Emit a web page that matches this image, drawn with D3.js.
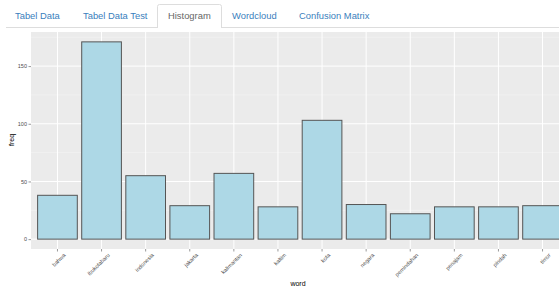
<!DOCTYPE html>
<html><head><meta charset="utf-8">
<script src="https://cdn.jsdelivr.net/npm/d3@7"></script>
<style>
body{margin:0;background:#fff;font-family:"Liberation Sans",Arial,sans-serif;}
svg{display:block}
</style></head>
<body><svg id="c" width="559" height="289"></svg>
<script>
const tabs = ["Tabel Data","Tabel Data Test","Histogram","Wordcloud","Confusion Matrix"];
const activeTab = "Histogram";
const words = ["bahwa","ibukotabaru","indonesia","jakarta","kalimantan","kaltim","kota","negara","pemindahan","penajam","pindah","timur"];
const freq = [38,171,55,29,57,28,103,30,22,28,28,29];
const yTicks = [0,50,100,150];
const yMinor = [25,75,125,175];

(function(){
const svg = d3.select("#c");
const tabX = [15,83,168,232,299];
svg.append("line").attr("x1",6).attr("x2",559).attr("y1",27.5).attr("y2",27.5).attr("stroke","#ddd");
tabs.forEach((t,i)=>{
  if(t===activeTab){
    svg.append("path").attr("d",`M157.5,28V6.5a2,2 0 0 1 2,-2H219.5a2,2 0 0 1 2,2V28`).attr("fill","#fff").attr("stroke","#ddd");
    svg.append("rect").attr("x",158).attr("y",26).attr("width",63).attr("height",3).attr("fill","#fff");
  }
  svg.append("text").attr("x",tabX[i]).attr("y",19).attr("font-size",9.4)
    .attr("fill",t===activeTab?"#666":"#3a80bd").text(t);
});

const pL=31, pR=569, pT=32, pB=249;
const x = d3.scaleBand().domain(words).range([pL,pR]).paddingInner(0.1).paddingOuter(0.15);
const yMax = d3.max(freq);
const y = d3.scaleLinear().domain([-yMax*0.05, yMax*1.05]).range([pB,pT]);

const g = svg.append("g");
g.append("rect").attr("x",pL).attr("y",pT).attr("width",pR-pL).attr("height",pB-pT).attr("fill","#ebebeb");
yMinor.forEach(v=>g.append("line").attr("x1",pL).attr("x2",pR).attr("y1",y(v)).attr("y2",y(v)).attr("stroke","#f7f7f7").attr("stroke-width",0.5));
yTicks.forEach(v=>g.append("line").attr("x1",pL).attr("x2",pR).attr("y1",y(v)).attr("y2",y(v)).attr("stroke","#fff").attr("stroke-width",1));
words.forEach(w=>{const cx=x(w)+x.bandwidth()/2; g.append("line").attr("x1",cx).attr("x2",cx).attr("y1",pT).attr("y2",pB).attr("stroke","#fff").attr("stroke-width",1);});

g.selectAll(".bar").data(words).join("rect").attr("class","bar")
  .attr("x",d=>x(d)).attr("width",x.bandwidth())
  .attr("y",(d,i)=>y(freq[i])).attr("height",(d,i)=>y(0)-y(freq[i]))
  .attr("fill","#add8e6").attr("stroke","#555").attr("stroke-width",1);

const ya = svg.append("g").attr("transform",`translate(${pL},0)`)
  .call(d3.axisLeft(y).tickValues(yTicks).tickSize(2.5).tickPadding(1.5));
ya.select(".domain").remove();
ya.selectAll("line").attr("stroke","#333").attr("stroke-width",0.5);
ya.selectAll("text").attr("font-size",5.5).attr("fill","#4d4d4d").attr("font-family","Liberation Sans,Arial,sans-serif");

const xa = svg.append("g").attr("transform",`translate(0,${pB})`)
  .call(d3.axisBottom(x).tickSize(2.5).tickPadding(2));
xa.select(".domain").remove();
xa.selectAll("line").attr("stroke","#333").attr("stroke-width",0.5);
xa.selectAll("text").attr("font-size",5.5).attr("fill","#4d4d4d").attr("font-family","Liberation Sans,Arial,sans-serif")
  .attr("text-anchor","end").attr("dy","0.35em").attr("transform","translate(4,2) rotate(-45)");

svg.append("text").attr("x",298).attr("y",286).attr("text-anchor","middle").attr("font-size",7).attr("fill","#000").text("word");
svg.append("text").attr("transform","translate(14,140) rotate(-90)").attr("text-anchor","middle").attr("font-size",7).attr("fill","#000").text("freq");
})();
</script></body></html>
